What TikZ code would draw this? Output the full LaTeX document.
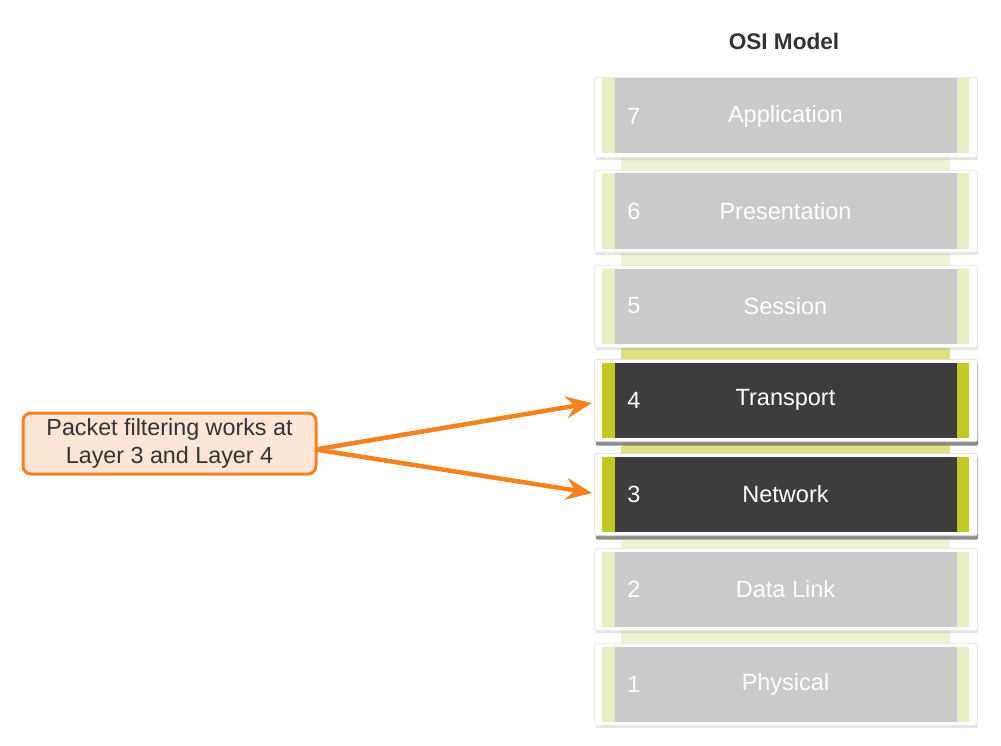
\documentclass[tikz,border=0pt]{standalone}
\usepackage{fontspec}
\setmainfont{Liberation Sans}
\usetikzlibrary{arrows.meta,shadows,backgrounds}

\definecolor{layergray}{HTML}{CACACA}
\definecolor{layerdark}{HTML}{3F3C3D}
\definecolor{stripmild}{HTML}{EBEEC2}
\definecolor{stripdark}{HTML}{C0CA22}
\definecolor{linkmild}{HTML}{F0F2D3}
\definecolor{linkdark}{HTML}{DEE17D}
\definecolor{notefill}{HTML}{FDE6D6}
\definecolor{noteline}{HTML}{F5821F}
\definecolor{titletext}{HTML}{333333}

\tikzset{
	osilayer/.style={draw=none, fill=layergray, minimum width=367pt, minimum height=75pt, inner sep=0pt,
		text=white, font=\fontsize{23.5}{27}\selectfont,
		path picture={
			\fill[#1] (path picture bounding box.north west) rectangle ([xshift=13pt]path picture bounding box.south west);
			\fill[#1] ([xshift=-12pt]path picture bounding box.north east) rectangle (path picture bounding box.south east);
		}},
	idlelayer/.style={osilayer=stripmild},
	hilayer/.style={osilayer=stripdark, fill=layerdark},
	num/.style={draw=none, text=white, font=\fontsize{23.5}{27}\selectfont},
	frame/.style={fill=white, draw=black!10, line width=0.8pt, rounded corners=2pt,
		drop shadow={shadow xshift=1pt, shadow yshift=-2.5pt, opacity=0.2}},
	hiframe/.style={fill=white, draw=black!15, line width=0.8pt, rounded corners=2pt,
		drop shadow={shadow xshift=1pt, shadow yshift=-4pt, opacity=0.9}},
	note/.style={draw=noteline, fill=notefill, line width=3pt, rounded corners=8pt, minimum width=293pt,
		minimum height=61pt, align=center, text=titletext, font=\fontsize{23.3}{28}\selectfont},
	pointer/.style={draw=noteline, line width=4.5pt, -{Stealth[length=26pt, width=22pt, inset=9pt]}}
}

\begin{document}
\begin{tikzpicture}[x=1pt, y=-1pt]
	\useasboundingbox (0,0) rectangle (1001,746);

	% Definisci i livelli
	\node[draw=none, text=titletext, font=\bfseries\fontsize{22.6}{26}\selectfont] (osi) at (784,41) {OSI Model};

	\node[idlelayer] (L7) at (785.5,116) {Application};
	\node[idlelayer] (L6) at (785.5,211) {Presentation};
	\node[idlelayer] (L5) at (785.5,306) {Session};
	\node[hilayer] (L4) at (785.5,400) {Transport};
	\node[hilayer] (L3) at (785.5,494) {Network};
	\node[idlelayer] (L2) at (785.5,589) {Data Link};
	\node[idlelayer] (L1) at (785.5,684) {Physical};

	\node[num] (n7) at ([xshift=32pt]L7.west) {7};
	\node[num] (n6) at ([xshift=32pt]L6.west) {6};
	\node[num] (n5) at ([xshift=32pt]L5.west) {5};
	\node[num] (n4) at ([xshift=32pt]L4.west) {4};
	\node[num] (n3) at ([xshift=32pt]L3.west) {3};
	\node[num] (n2) at ([xshift=32pt]L2.west) {2};
	\node[num] (n1) at ([xshift=32pt]L1.west) {1};

	% Cornici e collegamenti
	\begin{scope}[on background layer]
		\fill[linkmild] ([xshift=19pt]L7.south west) rectangle ([xshift=-19pt]L6.north east);
		\fill[linkmild] ([xshift=19pt]L6.south west) rectangle ([xshift=-19pt]L5.north east);
		\fill[linkdark] ([xshift=19pt]L5.south west) rectangle ([xshift=-19pt]L4.north east);
		\fill[linkdark] ([xshift=19pt]L4.south west) rectangle ([xshift=-19pt]L3.north east);
		\fill[linkmild] ([xshift=19pt]L3.south west) rectangle ([xshift=-19pt]L2.north east);
		\fill[linkmild] ([xshift=19pt]L2.south west) rectangle ([xshift=-19pt]L1.north east);

		\filldraw[frame] ([shift={(-7,-1)}]L7.north west) rectangle ([shift={(8,4)}]L7.south east);
		\filldraw[frame] ([shift={(-7,-3)}]L6.north west) rectangle ([shift={(8,4)}]L6.south east);
		\filldraw[frame] ([shift={(-7,-3)}]L5.north west) rectangle ([shift={(8,4)}]L5.south east);
		\filldraw[hiframe] ([shift={(-7,-3)}]L4.north west) rectangle ([shift={(8,4)}]L4.south east);
		\filldraw[hiframe] ([shift={(-7,-3)}]L3.north west) rectangle ([shift={(8,4)}]L3.south east);
		\filldraw[frame] ([shift={(-7,-3)}]L2.north west) rectangle ([shift={(8,4)}]L2.south east);
		\filldraw[frame] ([shift={(-7,-3)}]L1.north west) rectangle ([shift={(8,4)}]L1.south east);
	\end{scope}

	% Nota
	\node[note] (pf) at (169.5,443.5) {Packet filtering works at\\Layer 3 and Layer 4};

	% Collega la nota
	\draw[pointer] ([shift={(-2,6)}]pf.east) -- ([shift={(-10,3)}]L4.west);
	\draw[pointer] ([shift={(-2,6)}]pf.east) -- ([shift={(-10,-1)}]L3.west);
\end{tikzpicture}
\end{document}
